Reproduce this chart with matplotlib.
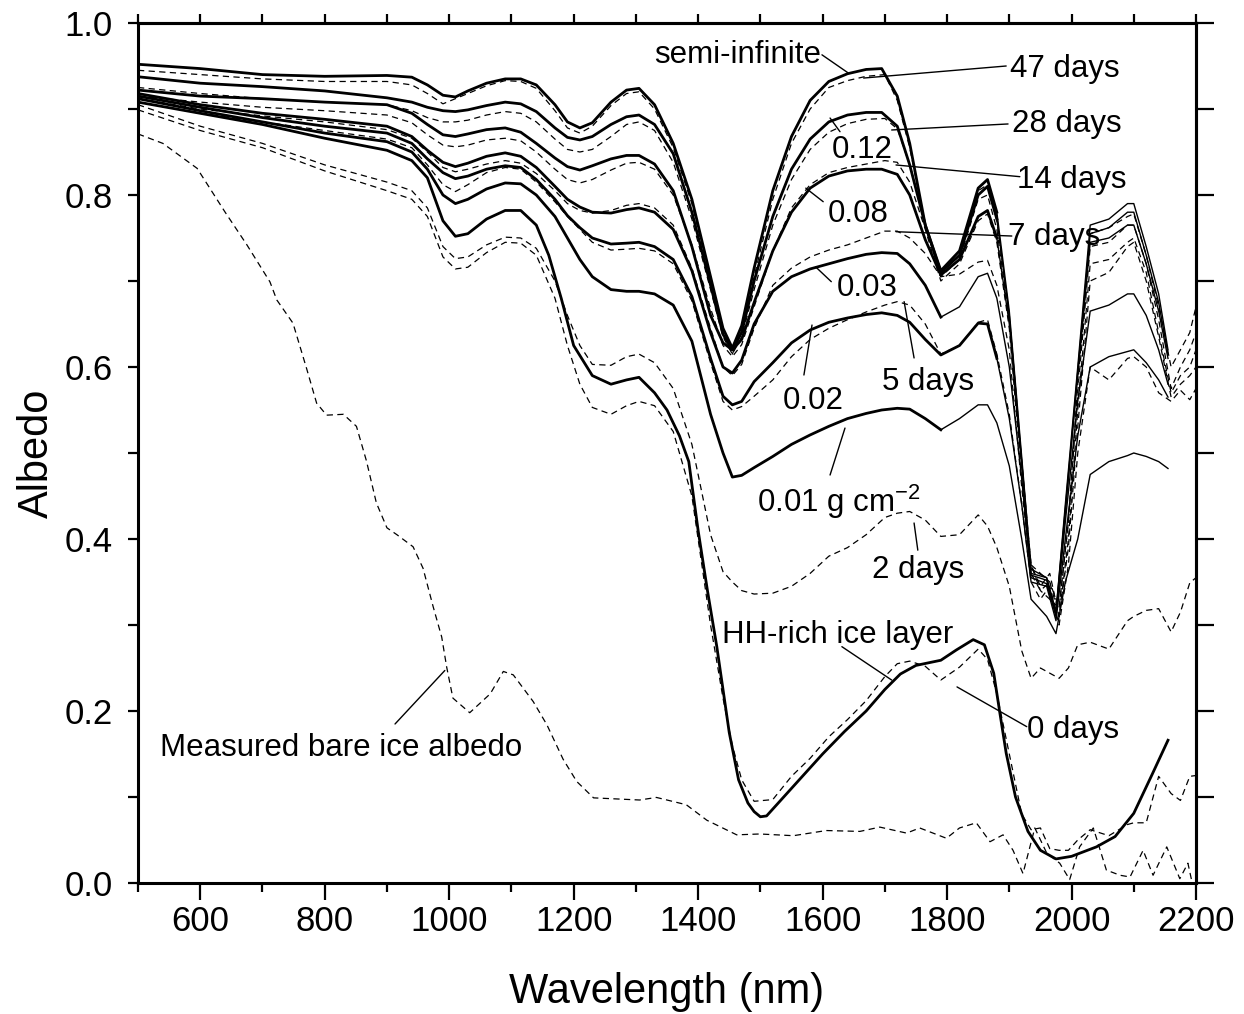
import numpy as np
import matplotlib.pyplot as plt

plt.rcParams['font.family'] = ['Liberation Sans', 'DejaVu Sans']
plt.rcParams['mathtext.fontset'] = 'custom'
plt.rcParams['mathtext.rm'] = 'Liberation Sans'
plt.rcParams['mathtext.it'] = 'Liberation Sans:italic'
plt.rcParams['mathtext.bf'] = 'Liberation Sans:bold'

# modelled albedo, HH layer thickness (g cm-2)
model_wl = [500, 600, 700, 800, 900, 940, 965, 990, 1010, 1030,
            1060, 1090, 1115, 1140, 1170, 1190, 1210, 1230, 1260, 1285,
            1305, 1330, 1360, 1390, 1420, 1440, 1455, 1470, 1490, 1520,
            1550, 1580, 1610, 1640, 1670, 1695, 1720, 1740, 1765, 1790,
            1820, 1850, 1865, 1880, 1900, 1920, 1935, 1960, 1975, 1990,
            2010, 2030, 2060, 2090, 2100, 2120, 2140, 2155]
semi_inf = [0.952, 0.947, 0.940, 0.938, 0.939, 0.937, 0.928, 0.916, 0.914, 0.921,
            0.930, 0.935, 0.935, 0.928, 0.905, 0.885, 0.878, 0.884, 0.908, 0.922,
            0.924, 0.905, 0.860, 0.795, 0.705, 0.645, 0.622, 0.648, 0.715, 0.805,
            0.868, 0.910, 0.932, 0.941, 0.946, 0.947, 0.915, 0.860, 0.765, 0.712,
            0.735, 0.808, 0.818, 0.780, 0.665, 0.495, 0.365, 0.355, 0.315, 0.440,
            0.600, 0.765, 0.772, 0.790, 0.790, 0.740, 0.685, 0.620]
hh_012 = [0.9375, 0.930, 0.926, 0.921, 0.913, 0.908, 0.902, 0.898, 0.897, 0.899,
          0.904, 0.908, 0.906, 0.897, 0.878, 0.867, 0.864, 0.868, 0.882, 0.891,
          0.893, 0.882, 0.848, 0.780, 0.695, 0.638, 0.620, 0.640, 0.700, 0.775,
          0.830, 0.865, 0.885, 0.893, 0.896, 0.896, 0.880, 0.835, 0.765, 0.710,
          0.730, 0.800, 0.810, 0.772, 0.660, 0.490, 0.360, 0.355, 0.315, 0.435,
          0.595, 0.755, 0.762, 0.780, 0.780, 0.730, 0.675, 0.615]
hh_008 = [0.922, 0.915, 0.912, 0.908, 0.905, 0.895, 0.882, 0.870, 0.868, 0.871,
          0.876, 0.878, 0.873, 0.860, 0.843, 0.833, 0.829, 0.834, 0.842, 0.846,
          0.846, 0.836, 0.805, 0.740, 0.660, 0.628, 0.620, 0.632, 0.675, 0.735,
          0.780, 0.808, 0.822, 0.828, 0.830, 0.830, 0.824, 0.800, 0.748, 0.707,
          0.725, 0.775, 0.782, 0.750, 0.650, 0.485, 0.358, 0.352, 0.312, 0.430,
          0.590, 0.745, 0.750, 0.765, 0.765, 0.720, 0.665, 0.610]
hh_003 = [0.918, 0.905, 0.895, 0.888, 0.880, 0.868, 0.852, 0.838, 0.833, 0.837,
          0.845, 0.849, 0.845, 0.832, 0.810, 0.795, 0.786, 0.780, 0.779, 0.783,
          0.785, 0.780, 0.760, 0.712, 0.640, 0.600, 0.593, 0.608, 0.650, 0.688,
          0.705, 0.714, 0.720, 0.726, 0.731, 0.733, 0.732, 0.720, 0.695, 0.658,
          0.670, 0.705, 0.709, 0.680, 0.600, 0.470, 0.355, 0.348, 0.310, 0.420,
          0.560, 0.665, 0.672, 0.685, 0.685, 0.660, 0.620, 0.580]
hh_002 = [0.915, 0.902, 0.890, 0.880, 0.872, 0.860, 0.842, 0.826, 0.819, 0.822,
          0.830, 0.834, 0.832, 0.818, 0.795, 0.776, 0.762, 0.750, 0.743, 0.744,
          0.745, 0.740, 0.725, 0.682, 0.610, 0.566, 0.556, 0.560, 0.583, 0.605,
          0.628, 0.643, 0.652, 0.657, 0.661, 0.663, 0.660, 0.652, 0.632, 0.614,
          0.625, 0.651, 0.650, 0.610, 0.540, 0.440, 0.350, 0.345, 0.305, 0.400,
          0.520, 0.600, 0.612, 0.618, 0.620, 0.605, 0.585, 0.565]
hh_001 = [0.912, 0.898, 0.885, 0.872, 0.862, 0.850, 0.830, 0.800, 0.790, 0.795,
          0.807, 0.814, 0.813, 0.800, 0.775, 0.750, 0.725, 0.705, 0.690, 0.688,
          0.688, 0.685, 0.672, 0.630, 0.545, 0.500, 0.472, 0.474, 0.483, 0.496,
          0.510, 0.521, 0.531, 0.540, 0.546, 0.550, 0.552, 0.551, 0.540, 0.527,
          0.540, 0.556, 0.556, 0.535, 0.485, 0.400, 0.330, 0.310, 0.290, 0.350,
          0.400, 0.475, 0.490, 0.497, 0.500, 0.496, 0.490, 0.482]

# HH-rich ice layer model
layer_wl = [500, 600, 700, 800, 900, 940, 965, 990, 1010, 1030,
            1060, 1090, 1115, 1140, 1160, 1180, 1200, 1230, 1260, 1285,
            1305, 1330, 1350, 1370, 1385, 1400, 1415, 1430, 1450, 1465,
            1480, 1490, 1500, 1510, 1525, 1550, 1600, 1635, 1670, 1700,
            1725, 1750, 1790, 1815, 1842, 1860, 1875, 1885, 1895, 1910,
            1930, 1950, 1975, 2000, 2040, 2070, 2100, 2130, 2155]
layer_alb = [0.908, 0.895, 0.882, 0.866, 0.852, 0.840, 0.820, 0.770, 0.752, 0.755,
             0.772, 0.782, 0.782, 0.765, 0.730, 0.680, 0.625, 0.590, 0.580, 0.585,
             0.588, 0.570, 0.550, 0.520, 0.490, 0.410, 0.340, 0.275, 0.175, 0.120,
             0.093, 0.083, 0.077, 0.078, 0.090, 0.110, 0.150, 0.176, 0.200, 0.225,
             0.243, 0.253, 0.259, 0.271, 0.283, 0.277, 0.244, 0.197, 0.151, 0.100,
             0.060, 0.038, 0.028, 0.031, 0.042, 0.054, 0.081, 0.127, 0.166]

# measured albedo, days of exposure
meas_wl = [500, 600, 700, 800, 900, 940, 965, 990, 1010, 1030,
           1060, 1090, 1115, 1140, 1170, 1190, 1210, 1230, 1260, 1285,
           1305, 1330, 1360, 1390, 1420, 1440, 1455, 1470, 1490, 1520,
           1550, 1580, 1610, 1640, 1670, 1700, 1720, 1740, 1765, 1790,
           1820, 1850, 1865, 1880, 1900, 1920, 1935, 1950, 1965, 1980,
           1995, 2010, 2030, 2060, 2090, 2100, 2120, 2140, 2160, 2175,
           2190, 2200]
day47 = [0.945, 0.940, 0.935, 0.932, 0.932, 0.928, 0.918, 0.906, 0.912, 0.918,
         0.927, 0.933, 0.932, 0.924, 0.898, 0.878, 0.872, 0.880, 0.904, 0.918,
         0.920, 0.900, 0.855, 0.790, 0.700, 0.638, 0.615, 0.642, 0.705, 0.795,
         0.860, 0.900, 0.925, 0.933, 0.938, 0.940, 0.910, 0.855, 0.765, 0.708,
         0.730, 0.805, 0.812, 0.770, 0.660, 0.490, 0.370, 0.360, 0.350, 0.320,
         0.420, 0.580, 0.755, 0.762, 0.775, 0.778, 0.730, 0.670, 0.600, 0.620,
         0.640, 0.670]
day28 = [0.925, 0.918, 0.912, 0.908, 0.905, 0.898, 0.890, 0.885, 0.885, 0.887,
         0.893, 0.897, 0.895, 0.885, 0.865, 0.853, 0.850, 0.853, 0.868, 0.882,
         0.885, 0.875, 0.838, 0.772, 0.690, 0.635, 0.615, 0.635, 0.690, 0.765,
         0.818, 0.853, 0.873, 0.883, 0.888, 0.889, 0.877, 0.835, 0.765, 0.705,
         0.725, 0.795, 0.800, 0.760, 0.655, 0.480, 0.370, 0.340, 0.330, 0.320,
         0.420, 0.570, 0.740, 0.745, 0.765, 0.765, 0.720, 0.655, 0.575, 0.600,
         0.620, 0.640]
day14 = [0.915, 0.908, 0.902, 0.898, 0.893, 0.884, 0.870, 0.858, 0.856, 0.858,
         0.864, 0.866, 0.863, 0.850, 0.830, 0.818, 0.814, 0.818, 0.829, 0.837,
         0.838, 0.830, 0.800, 0.742, 0.668, 0.625, 0.612, 0.626, 0.670, 0.735,
         0.785, 0.812, 0.826, 0.832, 0.836, 0.840, 0.838, 0.815, 0.760, 0.700,
         0.720, 0.770, 0.778, 0.745, 0.645, 0.470, 0.370, 0.345, 0.360, 0.310,
         0.400, 0.550, 0.720, 0.725, 0.745, 0.750, 0.710, 0.640, 0.570, 0.590,
         0.600, 0.620]
day7 = [0.912, 0.900, 0.892, 0.885, 0.876, 0.866, 0.850, 0.832, 0.827, 0.830,
        0.836, 0.840, 0.837, 0.825, 0.805, 0.790, 0.782, 0.779, 0.782, 0.788,
        0.790, 0.785, 0.765, 0.715, 0.645, 0.600, 0.590, 0.603, 0.645, 0.695,
        0.715, 0.728, 0.736, 0.742, 0.750, 0.758, 0.758, 0.750, 0.732, 0.705,
        0.708, 0.722, 0.724, 0.695, 0.620, 0.460, 0.360, 0.340, 0.350, 0.310,
        0.390, 0.530, 0.700, 0.710, 0.740, 0.745, 0.700, 0.635, 0.565, 0.580,
        0.590, 0.600]
day5 = [0.908, 0.895, 0.885, 0.875, 0.865, 0.855, 0.835, 0.812, 0.804, 0.812,
        0.826, 0.832, 0.830, 0.815, 0.792, 0.775, 0.760, 0.745, 0.736, 0.737,
        0.738, 0.735, 0.720, 0.677, 0.605, 0.560, 0.550, 0.554, 0.566, 0.585,
        0.612, 0.632, 0.645, 0.655, 0.664, 0.672, 0.676, 0.672, 0.650, 0.615,
        0.625, 0.652, 0.655, 0.615, 0.545, 0.440, 0.350, 0.330, 0.345, 0.300,
        0.370, 0.500, 0.600, 0.585, 0.610, 0.612, 0.600, 0.570, 0.560, 0.573,
        0.562, 0.575]
day2 = [0.905, 0.880, 0.860, 0.835, 0.815, 0.805, 0.785, 0.740, 0.726, 0.728,
        0.742, 0.751, 0.750, 0.738, 0.700, 0.660, 0.625, 0.603, 0.602, 0.612,
        0.615, 0.605, 0.575, 0.510, 0.405, 0.362, 0.350, 0.340, 0.336, 0.337,
        0.345, 0.360, 0.380, 0.390, 0.405, 0.425, 0.430, 0.432, 0.422, 0.403,
        0.405, 0.428, 0.415, 0.390, 0.345, 0.270, 0.238, 0.250, 0.244, 0.238,
        0.250, 0.277, 0.280, 0.272, 0.305, 0.310, 0.317, 0.319, 0.292, 0.315,
        0.349, 0.355]
day0 = [0.899, 0.875, 0.855, 0.828, 0.805, 0.795, 0.775, 0.728, 0.714, 0.716,
        0.733, 0.745, 0.744, 0.730, 0.680, 0.625, 0.580, 0.553, 0.545, 0.555,
        0.560, 0.555, 0.525, 0.450, 0.300, 0.215, 0.160, 0.120, 0.095, 0.097,
        0.124, 0.145, 0.170, 0.190, 0.212, 0.240, 0.255, 0.258, 0.252, 0.236,
        0.251, 0.272, 0.260, 0.220, 0.150, 0.080, 0.062, 0.064, 0.040, 0.038,
        0.038, 0.050, 0.062, 0.055, 0.068, 0.070, 0.070, 0.124, 0.104, 0.096,
        0.124, 0.125]

# measured bare ice
bare_wl = [500, 540, 595, 640, 675, 712, 723, 749, 771, 787,
           803, 830, 851, 867, 883, 900, 916, 942, 958, 974,
           988, 996, 1006, 1033, 1066, 1087, 1103, 1135, 1157, 1183,
           1205, 1232, 1306, 1333, 1381, 1414, 1462, 1499, 1553, 1606,
           1660, 1692, 1735, 1756, 1799, 1820, 1847, 1869, 1890, 1906,
           1922, 1941, 1960, 1981, 1997, 2013, 2035, 2056, 2078, 2094,
           2115, 2131, 2153, 2174, 2187, 2193]
bare_alb = [0.871, 0.860, 0.831, 0.780, 0.742, 0.699, 0.678, 0.651, 0.598, 0.558,
            0.544, 0.545, 0.531, 0.491, 0.442, 0.413, 0.405, 0.391, 0.366, 0.322,
            0.286, 0.251, 0.215, 0.198, 0.220, 0.246, 0.242, 0.211, 0.184, 0.144,
            0.118, 0.099, 0.0965, 0.0995, 0.091, 0.073, 0.056, 0.057, 0.055, 0.061,
            0.060, 0.065, 0.058, 0.064, 0.052, 0.064, 0.070, 0.048, 0.056, 0.038,
            0.011, 0.064, 0.035, 0.023, 0.004, 0.042, 0.064, 0.015, 0.009, 0.007,
            0.038, 0.009, 0.042, 0.005, 0.023, 0.003]

fig = plt.figure(figsize=(12.44, 10.14), dpi=100)
ax = fig.add_axes([138 / 1244, 1 - 883 / 1014, 1058 / 1244, 860 / 1014])

dash = (0, (5, 3.5))
for alb in [day47, day28, day14, day7, day5, day2, day0]:
    ax.plot(meas_wl, alb, color='black', lw=0.9, ls=dash)
ax.plot(bare_wl, bare_alb, color='black', lw=0.9, ls=dash)

wl = np.array(model_wl)
for alb, split in [(semi_inf, 1880), (hh_012, 1880), (hh_008, 1880),
                   (hh_003, 1790), (hh_002, 1880), (hh_001, 1790)]:
    alb = np.array(alb)
    ax.plot(wl[wl <= split], alb[wl <= split], color='black', lw=2.0,
            solid_joinstyle='round')
    ax.plot(wl[wl >= split], alb[wl >= split], color='black', lw=1.0)
ax.plot(layer_wl, layer_alb, color='black', lw=2.0, solid_joinstyle='round')

ax.set_xlim(500, 2200)
ax.set_ylim(0, 1.0)
ax.set_xticks(np.arange(600, 2201, 200))
ax.set_xticks(np.arange(500, 2201, 100), minor=True)
ax.set_yticks(np.arange(0, 1.01, 0.2))
ax.set_yticks(np.arange(0, 1.01, 0.1), minor=True)
ax.set_yticklabels(['%.1f' % v for v in np.arange(0, 1.01, 0.2)])
ax.tick_params(axis='x', which='major', direction='out', length=12, width=1.6,
               labelsize=25, pad=4)
ax.tick_params(axis='x', which='minor', direction='out', length=6.5, width=1.6)
ax.tick_params(axis='y', which='both', direction='out', length=7, width=1.6,
               labelsize=25, pad=11)
for s in ax.spines.values():
    s.set_linewidth(2.2)

secx = ax.secondary_xaxis('top')
secx.set_xticks(np.arange(500, 2201, 100))
secx.tick_params(direction='out', length=6.5, width=1.6, labeltop=False)
secx.spines['top'].set_linewidth(2.2)
secy = ax.secondary_yaxis('right')
secy.set_yticks(np.arange(0, 1.01, 0.1))
secy.tick_params(direction='out', length=13, width=1.6, labelright=False)
secy.spines['right'].set_linewidth(2.2)

ax.set_xlabel('Wavelength (nm)', fontsize=30)
ax.xaxis.label.set_verticalalignment('baseline')
ax.xaxis.set_label_coords(0.5, -0.1395)
ax.set_ylabel('Albedo', fontsize=30)
ax.yaxis.label.set_verticalalignment('baseline')
ax.yaxis.set_label_coords(-0.0851, 0.5)

fs = 22.5
labels = [
    ('semi-infinite', 1329, 0.9535, (1599, 0.963), (1641, 0.942)),
    ('47 days', 1901, 0.9375, (1895, 0.950), (1666, 0.936)),
    ('28 days', 1905, 0.8729, (1898, 0.8826), (1711, 0.8756)),
    ('14 days', 1913, 0.8077, (1917, 0.8213), (1718, 0.8349)),
    ('7 days', 1898, 0.7419, (1904, 0.7523), (1718, 0.7573)),
    ('0.12', 1615, 0.8426, (1628, 0.8736), (1612, 0.8895)),
    ('0.08', 1609, 0.769, (1601, 0.7922), (1573, 0.808)),
    ('0.03', 1622, 0.6826, (1614, 0.6992), (1589, 0.7163)),
    ('0.02', 1536, 0.5508, (1570, 0.5907), (1583, 0.6488)),
    ('5 days', 1696, 0.5733, (1747, 0.6105), (1731, 0.676)),
    ('0.01 g cm$^{-2}$', 1495, 0.4317, (1612, 0.4744), (1636, 0.529)),
    ('2 days', 1679, 0.3543, (1753, 0.387), (1747, 0.4186)),
    ('HH-rich ice layer', 1438, 0.2795, (1631, 0.2748), (1711, 0.236)),
    ('0 days', 1928, 0.1682, (1928, 0.1818), (1816, 0.228)),
    ('Measured bare ice albedo', 535, 0.1474, (913, 0.1849), (993, 0.2471)),
]
for txt, tx, ty, p0, p1 in labels:
    ax.text(tx, ty, txt, fontsize=fs, va='baseline', ha='left')
    ax.annotate('', xy=p1, xytext=p0,
                arrowprops=dict(arrowstyle='-', color='black', lw=1.0,
                                shrinkA=0, shrinkB=0))

fig.savefig('out.png', dpi=100)
